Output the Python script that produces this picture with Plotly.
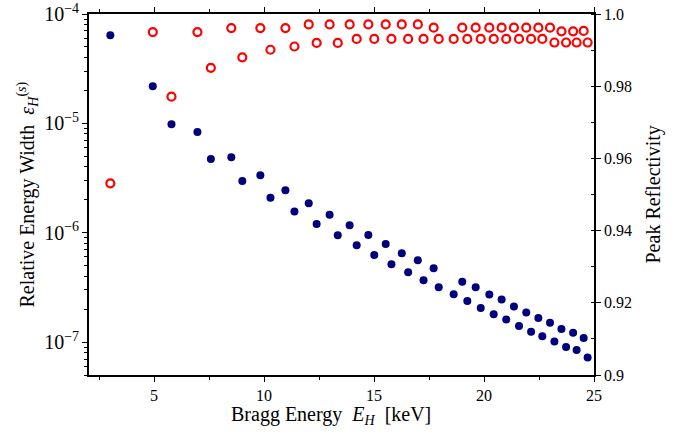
import plotly.graph_objects as go

energy_kev = [3.01, 4.94, 5.79, 6.97, 7.58, 8.51, 9.01, 9.83, 10.29, 10.97,
              11.38, 12.03, 12.39, 12.98, 13.35, 13.89, 14.21, 14.74, 15.01, 15.53,
              15.79, 16.26, 16.55, 16.99, 17.25, 17.71, 17.94, 18.62, 19.01, 19.24,
              19.62, 19.85, 20.24, 20.44, 20.80, 21.01, 21.36, 21.59, 21.92, 22.14,
              22.47, 22.65, 23.00, 23.20, 23.52, 23.73, 24.05, 24.21, 24.53, 24.71]

rel_width = [6.4e-5, 2.18e-5, 9.8e-6, 8.34e-6, 4.72e-6, 4.89e-6, 2.97e-6, 3.35e-6, 2.09e-6, 2.44e-6,
             1.56e-6, 1.86e-6, 1.20e-6, 1.46e-6, 9.48e-7, 1.17e-6, 7.69e-7, 9.54e-7, 6.26e-7, 7.90e-7,
             5.15e-7, 6.50e-7, 4.36e-7, 5.61e-7, 3.68e-7, 4.74e-7, 3.18e-7, 2.74e-7, 3.56e-7, 2.37e-7,
             3.18e-7, 2.05e-7, 2.72e-7, 1.80e-7, 2.45e-7, 1.61e-7, 2.11e-7, 1.40e-7, 1.86e-7, 1.24e-7,
             1.66e-7, 1.13e-7, 1.50e-7, 1.01e-7, 1.32e-7, 9.0e-8, 1.22e-7, 8.45e-8, 1.09e-7, 7.23e-8]

peak_refl = [0.9531, 0.9950, 0.9771, 0.9950, 0.9851, 0.9961, 0.9880, 0.9961, 0.9901, 0.9961,
             0.9910, 0.9971, 0.9920, 0.9971, 0.9920, 0.9971, 0.9931, 0.9971, 0.9931, 0.9971,
             0.9931, 0.9971, 0.9931, 0.9971, 0.9931, 0.9962, 0.9931, 0.9931, 0.9962, 0.9931,
             0.9962, 0.9931, 0.9962, 0.9931, 0.9962, 0.9931, 0.9962, 0.9931, 0.9962, 0.9931,
             0.9962, 0.9931, 0.9962, 0.9921, 0.9952, 0.9921, 0.9952, 0.9921, 0.9953, 0.9921]

right_tickvals = [0.9, 0.92, 0.94, 0.96, 0.98, 1.0]
right_ticktext = ["0.9", "0.92", "0.94", "0.96", "0.98", "1.0"]
x_tickvals = [5, 10, 15, 20, 25]

x_title = "Bragg Energy  <i>E</i><sub><i>H</i></sub>  [keV]"
y_title = "Relative Energy Width  <i>ε</i><sub><i>H</i></sub><sup>(<i>s</i>)</sup>"
y2_title = "Peak Reflectivity"

FONT = "Liberation Serif, Times New Roman, serif"
W, H = 688, 435
ML, MT = 89, 14
PW, PH = 505, 361
MR, MB = W - ML - PW, H - MT - PH

fig = go.Figure()
fig.add_trace(go.Scatter(
    x=energy_kev, y=rel_width, mode="markers", yaxis="y",
    marker=dict(symbol="circle", size=8, color="#00007f"),
    showlegend=False, hoverinfo="skip"))
fig.add_trace(go.Scatter(
    x=energy_kev, y=peak_refl, mode="markers", yaxis="y2",
    marker=dict(symbol="circle-open", size=8, color="#ff0000", line=dict(width=2.2, color="#ff0000")),
    showlegend=False, hoverinfo="skip"))

axis_common = dict(showline=True, linecolor="black", linewidth=1.5, showgrid=False,
                   zeroline=False, ticks="outside", ticklen=5, tickwidth=1, tickcolor="black",
                   automargin=False, ticklabeloverflow="allow",
                   tickfont=dict(family=FONT, size=16, color="black"))

fig.update_layout(
    width=W, height=H,
    margin=dict(l=ML, r=MR, t=MT, b=MB),
    paper_bgcolor="white", plot_bgcolor="white",
    font=dict(family=FONT, color="black"),
    xaxis=dict(**axis_common, range=[2.04, 25], tickvals=x_tickvals, mirror="ticks",
               minor=dict(ticks="outside", ticklen=3, dtick=2.5, tick0=0, tickcolor="black")),
    yaxis=dict(**axis_common, type="log", range=[-7.301, -4], dtick=1,
               exponentformat="power",
               minor=dict(ticks="outside", ticklen=3, dtick="D1", tickcolor="black")),
    yaxis2=dict(**axis_common, overlaying="y", side="right", range=[0.9, 1.0],
                tickvals=right_tickvals, ticktext=right_ticktext,
                minor=dict(ticks="inside", ticklen=3, dtick=0.01, tick0=0.9, tickcolor="black")),
)

title_font = dict(family=FONT, size=20, color="black")
fig.add_annotation(text=x_title, xref="paper", yref="paper",
                   x=(331 - ML) / PW, y=(MT + PH - 415) / PH,
                   xanchor="center", yanchor="middle", showarrow=False, font=title_font)
fig.add_annotation(text=y_title, xref="paper", yref="paper", textangle=-90,
                   x=(27 - ML) / PW, y=0.5,
                   xanchor="center", yanchor="middle", showarrow=False, font=title_font)
fig.add_annotation(text=y2_title, xref="paper", yref="paper", textangle=-90,
                   x=(653 - ML) / PW, y=0.5,
                   xanchor="center", yanchor="middle", showarrow=False, font=title_font)

fig.write_html("out.html", config={"displayModeBar": False},
               post_script="document.body.style.margin='0';")
